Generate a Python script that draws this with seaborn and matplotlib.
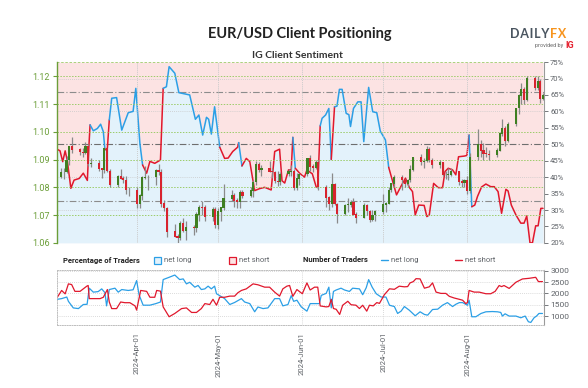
import numpy as np
import pandas as pd
import matplotlib
matplotlib.use("Agg")
import matplotlib.pyplot as plt
import matplotlib.dates as mdates
from matplotlib.patches import Rectangle
from matplotlib.lines import Line2D
import seaborn as sns

# ============================================================
# Data
# ============================================================

candle_dates = [
    "03-04", "03-05", "03-06", "03-07", "03-08", "03-11", "03-12", "03-13", "03-14", "03-15",
    "03-18", "03-19", "03-20", "03-21", "03-22", "03-25", "03-26", "03-27", "03-28", "03-29",
    "04-01", "04-02", "04-03", "04-04", "04-05", "04-08", "04-09", "04-10", "04-11", "04-12",
    "04-15", "04-16", "04-17", "04-18", "04-19", "04-22", "04-23", "04-24", "04-25", "04-26",
    "04-29", "04-30", "05-01", "05-02", "05-03", "05-06", "05-07", "05-08", "05-09", "05-10",
    "05-13", "05-14", "05-15", "05-16", "05-17", "05-20", "05-21", "05-22", "05-23", "05-24",
    "05-27", "05-28", "05-29", "05-30", "05-31", "06-03", "06-04", "06-05", "06-06", "06-07",
    "06-10", "06-11", "06-12", "06-13", "06-14", "06-17", "06-18", "06-19", "06-20", "06-21",
    "06-24", "06-25", "06-26", "06-27", "06-28", "07-01", "07-02", "07-03", "07-04", "07-05",
    "07-08", "07-09", "07-10", "07-11", "07-12", "07-15", "07-16", "07-17", "07-18", "07-19",
    "07-22", "07-23", "07-24", "07-25", "07-26", "07-29", "07-30", "07-31", "08-01", "08-02",
    "08-05", "08-06", "08-07", "08-08", "08-09", "08-12", "08-13", "08-14", "08-15", "08-16",
    "08-19", "08-20", "08-21", "08-22", "08-23", "08-26", "08-27", "08-28", "08-29",
]
opens = [
    1.0838, 1.0855, 1.0855, 1.0898, 1.0948, 1.0937, 1.0927, 1.0926, 1.0948, 1.0884,
    1.0888, 1.0868, 1.0864, 1.0942, 1.0859, 1.0808, 1.0839, 1.0831, 1.0826, 1.0790,
    1.0790, 1.0741, 1.0770, 1.0836, 1.0837, 1.0837, 1.0862, 1.0856, 1.0741, 1.0726,
    1.0642, 1.0624, 1.0620, 1.0672, 1.0644, 1.0656, 1.0655, 1.0703, 1.0729, 1.0728,
    1.0693, 1.0720, 1.0665, 1.0713, 1.0727, 1.0760, 1.0770, 1.0753, 1.0749, 1.0781,
    1.0771, 1.0788, 1.0820, 1.0882, 1.0865, 1.0870, 1.0857, 1.0855, 1.0823, 1.0820,
    1.0848, 1.0858, 1.0858, 1.0800, 1.0831, 1.0848, 1.0903, 1.0876, 1.0870, 1.0892,
    1.0801, 1.0764, 1.0740, 1.0810, 1.0740, 1.0704, 1.0736, 1.0738, 1.0748, 1.0703,
    1.0692, 1.0734, 1.0715, 1.0682, 1.0701, 1.0713, 1.0739, 1.0742, 1.0791, 1.0813,
    1.0838, 1.0826, 1.0813, 1.0826, 1.0864, 1.0907, 1.0891, 1.0895, 1.0937, 1.0899,
    1.0882, 1.0889, 1.0845, 1.0844, 1.0847, 1.0857, 1.0821, 1.0815, 1.0826, 1.0789,
    1.0910, 1.0955, 1.0933, 1.0922, 1.0920, 1.0916, 1.0933, 1.0993, 1.1013, 1.0968,
    1.1028, 1.1085, 1.1130, 1.1152, 1.1114, 1.1192, 1.1160, 1.1183, 1.1120,
]
highs = [
    1.0868, 1.0870, 1.0912, 1.0950, 1.0981, 1.0942, 1.0940, 1.0963, 1.0955, 1.0905,
    1.0898, 1.0870, 1.0945, 1.0942, 1.0865, 1.0843, 1.0865, 1.0840, 1.0840, 1.0800,
    1.0800, 1.0776, 1.0840, 1.0876, 1.0843, 1.0865, 1.0885, 1.0866, 1.0756, 1.0731,
    1.0668, 1.0633, 1.0680, 1.0690, 1.0678, 1.0666, 1.0712, 1.0735, 1.0750, 1.0735,
    1.0730, 1.0730, 1.0725, 1.0730, 1.0812, 1.0790, 1.0780, 1.0760, 1.0790, 1.0790,
    1.0800, 1.0825, 1.0895, 1.0890, 1.0880, 1.0895, 1.0870, 1.0860, 1.0860, 1.0855,
    1.0865, 1.0880, 1.0865, 1.0850, 1.0852, 1.0905, 1.0915, 1.0885, 1.0900, 1.0900,
    1.0810, 1.0770, 1.0850, 1.0815, 1.0745, 1.0740, 1.0760, 1.0755, 1.0760, 1.0710,
    1.0745, 1.0740, 1.0720, 1.0720, 1.0720, 1.0775, 1.0747, 1.0800, 1.0815, 1.0845,
    1.0845, 1.0830, 1.0830, 1.0880, 1.0910, 1.0920, 1.0905, 1.0948, 1.0945, 1.0905,
    1.0900, 1.0890, 1.0860, 1.0870, 1.0870, 1.0860, 1.0830, 1.0830, 1.0840, 1.0925,
    1.1009, 1.0970, 1.0960, 1.0945, 1.0935, 1.0940, 1.1000, 1.1045, 1.1020, 1.1035,
    1.1085, 1.1135, 1.1175, 1.1160, 1.1200, 1.1200, 1.1200, 1.1190, 1.1140,
]
lows = [
    1.0835, 1.0830, 1.0850, 1.0880, 1.0925, 1.0918, 1.0908, 1.0920, 1.0878, 1.0873,
    1.0860, 1.0835, 1.0850, 1.0855, 1.0802, 1.0802, 1.0830, 1.0815, 1.0775, 1.0770,
    1.0724, 1.0725, 1.0755, 1.0830, 1.0791, 1.0810, 1.0845, 1.0728, 1.0715, 1.0622,
    1.0621, 1.0601, 1.0612, 1.0638, 1.0610, 1.0630, 1.0640, 1.0680, 1.0700, 1.0680,
    1.0680, 1.0655, 1.0650, 1.0680, 1.0720, 1.0750, 1.0730, 1.0725, 1.0725, 1.0760,
    1.0765, 1.0765, 1.0810, 1.0855, 1.0840, 1.0855, 1.0835, 1.0815, 1.0805, 1.0810,
    1.0840, 1.0840, 1.0790, 1.0790, 1.0810, 1.0840, 1.0860, 1.0855, 1.0865, 1.0790,
    1.0730, 1.0720, 1.0730, 1.0735, 1.0670, 1.0700, 1.0710, 1.0730, 1.0700, 1.0670,
    1.0690, 1.0700, 1.0676, 1.0680, 1.0680, 1.0705, 1.0710, 1.0740, 1.0785, 1.0800,
    1.0790, 1.0800, 1.0800, 1.0820, 1.0860, 1.0880, 1.0870, 1.0890, 1.0890, 1.0870,
    1.0870, 1.0840, 1.0830, 1.0825, 1.0840, 1.0810, 1.0800, 1.0800, 1.0777, 1.0780,
    1.0900, 1.0910, 1.0900, 1.0910, 1.0900, 1.0910, 1.0930, 1.0985, 1.0950, 1.0965,
    1.1020, 1.1065, 1.1100, 1.1100, 1.1110, 1.1150, 1.1150, 1.1105, 1.1115,
]
closes = [
    1.0855, 1.0855, 1.0898, 1.0948, 1.0937, 1.0927, 1.0926, 1.0948, 1.0884, 1.0888,
    1.0868, 1.0864, 1.0942, 1.0859, 1.0808, 1.0839, 1.0831, 1.0826, 1.0790, 1.0790,
    1.0741, 1.0770, 1.0836, 1.0837, 1.0837, 1.0862, 1.0856, 1.0741, 1.0726, 1.0642,
    1.0624, 1.0620, 1.0672, 1.0644, 1.0656, 1.0655, 1.0703, 1.0729, 1.0728, 1.0693,
    1.0720, 1.0665, 1.0713, 1.0727, 1.0760, 1.0770, 1.0753, 1.0749, 1.0781, 1.0771,
    1.0788, 1.0820, 1.0882, 1.0865, 1.0870, 1.0857, 1.0855, 1.0823, 1.0820, 1.0848,
    1.0858, 1.0858, 1.0800, 1.0831, 1.0848, 1.0903, 1.0876, 1.0870, 1.0892, 1.0801,
    1.0764, 1.0740, 1.0810, 1.0740, 1.0704, 1.0736, 1.0738, 1.0748, 1.0703, 1.0692,
    1.0734, 1.0715, 1.0682, 1.0701, 1.0713, 1.0739, 1.0742, 1.0791, 1.0813, 1.0838,
    1.0826, 1.0813, 1.0826, 1.0864, 1.0907, 1.0891, 1.0895, 1.0937, 1.0899, 1.0882,
    1.0889, 1.0845, 1.0844, 1.0847, 1.0857, 1.0821, 1.0815, 1.0826, 1.0789, 1.0910,
    1.0955, 1.0933, 1.0922, 1.0920, 1.0916, 1.0933, 1.0993, 1.1013, 1.0968, 1.1028,
    1.1085, 1.1130, 1.1152, 1.1114, 1.1192, 1.1160, 1.1183, 1.1120, 1.1130,
]

# % of traders net long (days counted from 2024-03-01)
sent_days = [
    1.5, 2.6, 3.6, 4.5, 5.3, 6.6, 7.8, 9.7, 11.2, 12.7, 13.3, 13.7, 14.9, 16.4, 17.6, 18.6,
    19.2, 20.1, 20.8, 21.7, 23.5, 25.4, 27.8, 29.6, 30.6, 32.1, 33.1, 34.6, 35.8, 37.6, 39.7,
    40.7, 41.9, 42.9, 45.0, 46.5, 50.5, 52.6, 53.9, 55.3, 56.7, 57.5, 58.5, 59.7, 61.6, 63.4,
    64.7, 66.4, 68.2, 68.6, 69.8, 71.4, 72.7, 74.5, 76.3, 78.2, 80.6, 81.9, 83.7, 84.6, 85.6,
    87.0, 88.0, 88.6, 89.5, 91.1, 92.9, 93.8, 95.8, 97.2, 97.8, 98.7, 99.4, 100.7, 101.9,
    102.8, 104.0, 104.9, 105.8, 106.8, 108.3, 109.3, 109.9, 111.0, 112.6, 113.8, 114.8,
    116.6, 118.1, 119.6, 120.9, 122.8, 124.0, 125.5, 126.9, 128.6, 130.2, 131.6, 132.8,
    133.8, 135.1, 137.1, 138.1, 139.0, 140.6, 142.3, 143.9, 144.8, 146.0, 147.6, 148.8,
    149.8, 151.9, 152.9, 153.7, 154.7, 155.8, 156.8, 158.3, 159.9, 161.7, 163.0, 164.4,
    165.7, 167.3, 168.1, 169.3, 171.0, 172.8, 174.0, 175.0, 176.2, 177.1, 178.3, 179.2,
    180.2, 181.0,
]
sent_long_pct = [
    48.5, 48.0, 44.7, 48.0, 45.0, 36.6, 39.1, 39.6, 41.2, 39.0, 49.8, 55.9, 54.1, 54.8, 56.1, 53.8,
    48.3, 48.8, 57.4, 64.0, 64.2, 54.3, 59.6, 60.0, 67.0, 50.3, 43.7, 41.2, 44.8, 44.2, 45.2,
    67.0, 67.5, 73.6, 71.6, 65.7, 65.0, 57.6, 58.9, 52.8, 58.2, 57.6, 53.1, 61.4, 49.1, 45.7,
    45.8, 47.8, 49.1, 50.5, 43.4, 45.7, 44.7, 35.9, 36.5, 36.9, 36.1, 47.8, 48.5, 38.9, 38.2,
    42.2, 42.2, 52.1, 42.7, 41.2, 40.0, 42.2, 41.0, 37.1, 36.8, 55.6, 57.9, 58.9, 60.9,
    45.4, 61.4, 61.6, 66.7, 66.7, 59.4, 59.0, 55.4, 60.9, 62.9, 62.9, 50.8,
    67.3, 59.9, 59.6, 54.0, 51.3, 43.0, 38.6, 34.6, 37.3, 39.7, 36.9, 35.6,
    28.5, 31.5, 31.4, 28.0, 28.5, 38.1, 36.8, 36.8, 41.7, 42.7, 42.2, 40.7,
    46.2, 46.4, 46.6, 52.8, 31.0, 31.5, 34.1, 37.0, 37.9, 37.1, 37.1, 35.6,
    29.0, 36.3, 35.8, 31.5, 28.5, 26.0, 26.0, 28.2, 20.0, 20.0, 25.2, 25.2,
    30.5, 30.5,
]

# number of traders
long_days = [
    1.6, 3.2, 5.1, 5.7, 7.5, 9.4, 11.2, 12.6, 13.4, 14.9, 16.7, 18.0, 19.2, 19.8, 20.8, 22.9,
    24.1, 25.4, 27.8, 29.6, 30.9, 31.8, 33.3, 35.8, 38.0, 39.7, 40.7, 42.9, 45.0, 46.8, 48.1,
    49.3, 50.5, 52.4, 53.6, 54.8, 56.1, 57.3, 58.5, 59.7, 60.4, 61.6, 63.4, 65.3, 67.1, 69.6,
    70.8, 72.7, 74.5, 75.7, 77.6, 79.4, 81.9, 83.7, 84.9, 86.8, 88.0, 88.9, 90.1, 91.7, 93.8,
    95.0, 96.6, 98.4, 99.1, 100.9, 101.9, 102.8, 103.6, 104.6, 106.4, 107.7, 109.5, 110.7,
    113.2, 114.4, 115.7, 116.6, 117.9, 119.4, 121.2, 123.0, 124.3, 126.1, 127.3, 128.6,
    129.8, 131.6, 133.8, 135.6, 137.2, 138.4, 140.2, 142.1, 143.9, 145.7, 147.6, 148.8,
    150.1, 151.3, 153.1, 153.7, 154.7, 156.2, 158.1, 159.9, 162.3, 164.2, 165.4, 166.0,
    167.0, 168.5, 171.0, 172.8, 174.4, 175.6, 176.5, 177.7, 178.6, 179.5, 180.8,
]
long_count = [
    1740, 1770, 1840, 1650, 1360, 1330, 1510, 1520, 2230, 2055, 2080, 2200, 2030, 1450, 2170, 2230,
    2055, 2170, 2130, 2160, 2565, 1940, 1480, 1480, 1550, 1620, 2610, 2710, 2810, 2610, 2640,
    2420, 2490, 2275, 2350, 2170, 2200, 2320, 2200, 2320, 1985, 1900, 1770, 1510, 1600, 1770,
    1620, 1550, 1190, 1400, 1330, 1360, 1770, 1770, 1450, 1510, 1900, 1650, 1700, 1405, 1217,
    1550, 1550, 1550, 1913, 2000, 2275, 1362, 2087, 2150, 2230, 2150, 2087, 2230,
    2200, 1942, 2250, 2608, 2275, 1985, 1840, 1840, 1478, 1420, 1115, 1220,
    1420, 1260, 1013, 1188, 1072, 1040, 1290, 1304, 1480, 1594, 1420, 1520,
    1594, 1594, 1478, 1700, 970, 970, 1115, 1188, 1200, 1188, 1160, 1000,
    1100, 1000, 1000, 925, 1000, 750, 720, 925, 1000, 1115, 1115,
]
short_days = [
    1.6, 3.2, 4.5, 5.7, 6.9, 8.1, 10.0, 12.5, 13.0, 13.4, 17.4, 18.6, 20.1, 20.8, 21.7, 23.5,
    25.0, 26.6, 28.4, 30.3, 30.9, 32.4, 34.6, 35.8, 37.6, 38.3, 39.7, 40.7, 42.9, 45.0, 47.5,
    49.3, 51.2, 53.0, 54.8, 56.1, 57.9, 59.1, 60.4, 61.6, 63.4, 65.3, 67.1, 68.3, 69.6, 71.4,
    73.9, 75.7, 78.2, 80.0, 81.9, 83.7, 84.9, 86.4, 87.4, 88.6, 90.1, 92.1, 93.8, 95.0, 96.6,
    97.8, 98.7, 100.9, 101.9, 102.8, 103.6, 104.6, 105.9, 107.0, 108.9, 110.1, 111.9, 113.2,
    114.4, 115.9, 116.9, 118.3, 119.6, 120.6, 122.4, 124.3, 126.1, 127.9, 129.8, 131.0,
    131.9, 133.1, 134.1, 135.6, 137.2, 139.0, 140.2, 141.5, 143.3, 145.1, 146.4, 148.2,
    150.1, 151.3, 152.5, 153.1, 153.7, 155.6, 157.4, 159.9, 161.7, 163.3, 164.8, 165.7,
    166.6, 168.5, 171.0, 173.4, 175.9, 178.3, 179.3, 180.8,
]
short_count = [
    1830, 2130, 1980, 2420, 2390, 2090, 2090, 2320, 2350, 1770, 1770, 1830, 2170, 1620, 1330, 1330,
    1620, 1590, 1590, 1450, 1265, 2130, 2090, 1830, 1830, 2130, 2100, 1405, 970, 1115, 1330,
    1360, 1160, 1160, 1330, 1550, 1510, 1740, 1480, 1830, 1830, 1880, 1880, 2030, 2130, 2200,
    2420, 2380, 2275, 2275, 2055, 1880, 2200, 2320, 2350, 1870, 2170, 1985, 2463, 2150, 2275,
    2275, 1448, 1405, 1420, 1739, 1333, 1300, 1072, 1478, 1652, 1500, 1480, 1333,
    1478, 1217, 1478, 1450, 1594, 1560, 1942, 2203, 2180, 2318, 2290, 2300,
    2463, 2521, 2650, 2640, 2230, 2290, 2463, 2057, 2000, 2000, 1870, 1797,
    1739, 1700, 1550, 1600, 2130, 2057, 2057, 1985, 1985, 2087, 2347, 2300,
    2347, 2220, 2492, 2637, 2666, 2710, 2521, 2521,
]

# ============================================================
# Styling
# ============================================================

sns.set_style("white")
plt.rcParams["font.family"] = ["Roboto", "DejaVu Sans"]

BLUE = "#2b9fe6"
RED = "#e0182d"
PINK = "#fce3e3"
LIGHT_BLUE = "#e3f2fb"
GREEN = "#6b9e38"
GRID_GREEN = "#9ccc6a"
GRAY = "#5f6368"
UP = "#3f7f22"
DOWN = "#d8232e"
WICK = "#8a8a8a"

base = pd.Timestamp("2024-03-01")
x_start = pd.Timestamp("2024-03-02 12:00")
x_end = pd.Timestamp("2024-08-29 08:00")

candles = pd.DataFrame({
    "date": pd.to_datetime(["2024-" + d for d in candle_dates]),
    "open": opens, "high": highs, "low": lows, "close": closes,
})
sent = pd.DataFrame({
    "date": base + pd.to_timedelta(sent_days, unit="D"),
    "pct": sent_long_pct,
})
longs = pd.DataFrame({
    "date": base + pd.to_timedelta(long_days, unit="D"),
    "count": long_count, "side": "net long",
})
shorts = pd.DataFrame({
    "date": base + pd.to_timedelta(short_days, unit="D"),
    "count": short_count, "side": "net short",
})
traders = pd.concat([longs, shorts], ignore_index=True)

fig = plt.figure(figsize=(5.88, 3.88), dpi=100)
fig.patch.set_facecolor("white")

ax_p = fig.add_axes([0.097, 0.374, 0.828, 0.466])
ax_c = ax_p.twinx()
ax_b = fig.add_axes([0.097, 0.162, 0.828, 0.142])

# ============================================================
# Sentiment background + line (percent axis)
# ============================================================

ax_p.fill_between(sent["date"], 20, sent["pct"], color=LIGHT_BLUE, lw=0, zorder=0)
ax_p.fill_between(sent["date"], sent["pct"], 75, color=PINK, lw=0, zorder=0)

for lvl in [30, 40, 60, 70]:
    ax_p.axhline(lvl, color="#c8c8c8", lw=0.6, ls=(0, (1, 1.5)), zorder=1)
for lvl, c in [(32.8, "#8c8c8c"), (50, "#6e6e6e"), (65.8, "#8c8c8c")]:
    ax_p.axhline(lvl, color=c, lw=0.8, ls=(0, (6, 2, 1, 2)), zorder=1)

# line colour follows the side of 50% where each segment starts
is_long = sent["pct"].values > 50
start = 0
for i in range(1, len(sent)):
    if i == len(sent) - 1 or is_long[i] != is_long[start]:
        seg = sent.iloc[start:i + 1]
        sns.lineplot(x=seg["date"], y=seg["pct"], ax=ax_p,
                     color=BLUE if is_long[start] else RED, lw=1.1, zorder=4)
        start = i

ax_p.set_ylim(20, 75)
ax_p.set_yticks(range(20, 80, 5))
ax_p.set_yticklabels([f"{v}%" for v in range(20, 80, 5)])
ax_p.yaxis.tick_right()
ax_p.tick_params(axis="y", labelsize=5.5, colors=GRAY, length=3, width=0.6, pad=1.5)
ax_p.set_xlabel("")
ax_p.set_ylabel("")

# ============================================================
# Candles (price axis)
# ============================================================

for lvl in np.arange(1.06, 1.125, 0.01):
    ax_c.axhline(lvl, color=GRID_GREEN, lw=0.7, ls=(0, (1.5, 1.5)), zorder=1)
ax_c.axhline(1.1251, color=GRID_GREEN, lw=1.2, ls=(0, (1.5, 1.0)), zorder=1)

up = candles["close"] >= candles["open"]
ax_c.vlines(candles["date"], candles["low"], candles["high"], color=WICK, lw=0.9, zorder=2)
ax_c.bar(candles["date"], (candles["close"] - candles["open"]).abs() + 0.0002,
         bottom=candles[["open", "close"]].min(axis=1) - 0.0001, width=0.8,
         color=np.where(up, UP, DOWN), lw=0, zorder=3)

ax_c.set_ylim(1.06, 1.1251)
ax_c.set_yticks(np.arange(1.06, 1.125, 0.01))
ax_c.yaxis.set_major_formatter(plt.FormatStrFormatter("%.2f"))
ax_c.yaxis.tick_left()
ax_c.tick_params(axis="y", labelsize=6.5, colors=GREEN, length=3, width=0.8, pad=2)
ax_c.set_ylabel("")

for ax in (ax_p, ax_c):
    ax.set_xlim(x_start, x_end)
    ax.set_xticks([])
    for s in ax.spines.values():
        s.set_visible(False)
    for m in range(4, 9):
        ax.axvline(pd.Timestamp(2024, m, 1), color="#cccccc", lw=0.6, ls=(0, (1, 1.5)), zorder=1)

ax_c.spines["left"].set_visible(True)
ax_c.spines["left"].set_color(GREEN)
ax_c.spines["left"].set_linewidth(1.0)
ax_p.spines["right"].set_visible(True)
ax_p.spines["right"].set_color("#9a9a9a")
ax_p.spines["right"].set_linewidth(0.8)

# ============================================================
# Number of traders panel
# ============================================================

sns.lineplot(data=traders, x="date", y="count", hue="side",
             palette={"net long": BLUE, "net short": RED}, lw=0.9,
             ax=ax_b, legend=False, estimator=None, sort=True)

ax_b.set_xlim(x_start, x_end)
ax_b.set_ylim(600, 3030)
ax_b.set_yticks([1000, 1500, 2000, 2500, 3000])
ax_b.yaxis.tick_right()
ax_b.tick_params(axis="y", labelsize=6, colors=GRAY, length=3, width=0.6, pad=1.5)
for lvl in [1000, 1500, 2000, 2500, 3000]:
    ax_b.axhline(lvl, color="#cfcfcf", lw=0.6, ls=(0, (1, 1.5)), zorder=0)
for m in range(4, 9):
    ax_b.axvline(pd.Timestamp(2024, m, 1), color="#cccccc", lw=0.6, ls=(0, (1, 1.5)), zorder=0)
for side in ["top", "bottom", "left"]:
    ax_b.spines[side].set_linestyle((0, (1, 1.5)))
    ax_b.spines[side].set_color("#bdbdbd")
    ax_b.spines[side].set_linewidth(0.7)
ax_b.spines["right"].set_color("#9a9a9a")
ax_b.spines["right"].set_linewidth(0.8)

ax_b.set_xticks([pd.Timestamp(2024, m, 1) for m in range(4, 9)])
ax_b.xaxis.set_major_formatter(mdates.DateFormatter("%Y-%b-%d"))
ax_b.tick_params(axis="x", labelsize=5.5, colors=GRAY, length=3, width=0.6,
                 rotation=90, pad=2)
ax_b.set_xlabel("")
ax_b.set_ylabel("")

# ============================================================
# Titles, legend row and logo
# ============================================================

fig.text(0.51, 0.912, "EUR/USD Client Positioning", ha="center", va="center",
         fontsize=10.5, fontweight="bold", color="#222222", family=["Lato", "DejaVu Sans"])
fig.text(0.505, 0.856, "IG Client Sentiment", ha="center", va="center",
         fontsize=7.5, fontweight="bold", color="#333333", family=["Lato", "DejaVu Sans"])

leg_y = 1 - 260 / 388
sq_w, sq_h = 7 / 588, 7 / 388
fig.text(63 / 588, leg_y, "Percentage of Traders", fontsize=5.5, fontweight="bold",
         color="#222222", va="center")
fig.add_artist(Rectangle((154 / 588, leg_y - sq_h / 2), sq_w, sq_h, transform=fig.transFigure,
                         facecolor=LIGHT_BLUE, edgecolor=BLUE, lw=0.9))
fig.text(164 / 588, leg_y, "net long", fontsize=5.5, color=GRAY, va="center")
fig.add_artist(Rectangle((229 / 588, leg_y - sq_h / 2), sq_w, sq_h, transform=fig.transFigure,
                         facecolor=PINK, edgecolor=RED, lw=0.9))
fig.text(239 / 588, leg_y, "net short", fontsize=5.5, color=GRAY, va="center")
fig.text(303 / 588, leg_y, "Number of Traders", fontsize=5.5, fontweight="bold",
         color="#222222", va="center")
fig.add_artist(Line2D([381 / 588, 388 / 588], [leg_y, leg_y], transform=fig.transFigure,
                      color=BLUE, lw=1.0))
fig.text(391 / 588, leg_y, "net long", fontsize=5.5, color=GRAY, va="center")
fig.add_artist(Line2D([455 / 588, 462 / 588], [leg_y, leg_y], transform=fig.transFigure,
                      color=RED, lw=1.0))
fig.text(465 / 588, leg_y, "net short", fontsize=5.5, color=GRAY, va="center")

fig.text(0.935, 0.913, "D\u200aA\u200aI\u200aL\u200aY\u200a", ha="right", va="center",
         fontsize=9, fontweight="bold", color="#4a5560", family=["Lato", "DejaVu Sans"])
fig.text(0.935, 0.913, "F\u200aX", ha="left", va="center", fontsize=9, fontweight="bold",
         color="#f7941d", family=["Lato", "DejaVu Sans"])
fig.text(0.958, 0.882, "provided by", ha="right", va="center", fontsize=4,
         color="#666666")
fig.text(0.961, 0.882, "IG", ha="left", va="center", fontsize=6.5, fontweight="bold",
         color="#e5202e")

plt.savefig("out.png", dpi=100)
